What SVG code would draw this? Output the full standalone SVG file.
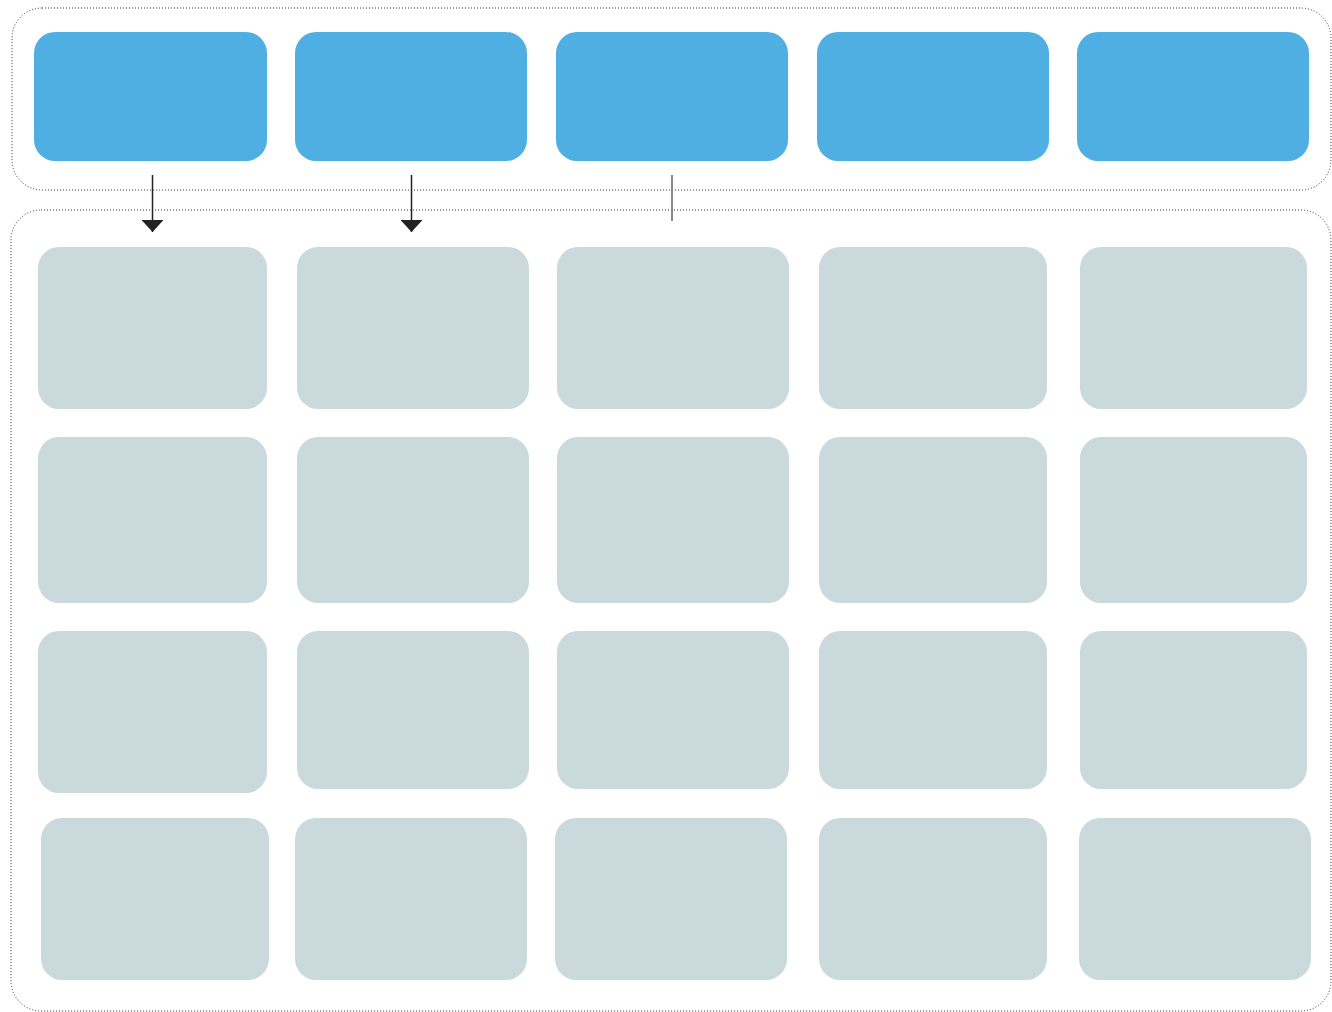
<svg xmlns="http://www.w3.org/2000/svg" width="1332" height="1012" viewBox="0 0 1332 1012">
<defs>
<style>
.container{fill:none;stroke:#333;stroke-width:1;stroke-dasharray:1 2}
.head{fill:#4FAFE3}
.cell{fill:#C9D9DC}
.arrow{stroke:#222;stroke-width:1.5;fill:none}
.tick{stroke:#888;stroke-width:2;fill:none}
</style>
<marker id="ah" viewBox="0 0 12 22" refX="12" refY="11" markerWidth="12" markerHeight="22" markerUnits="userSpaceOnUse" orient="auto">
<path d="M0,0 L12,11 L0,22 Z" fill="#222"/>
</marker>
</defs>
<rect width="1332" height="1012" fill="#fff"/>
<g id="containers">
<rect class="container" x="12" y="8" width="1319" height="182" rx="30"/>
<rect class="container" x="11" y="210" width="1320" height="801" rx="30"/>
</g>
<g id="headers">
<g id="h1"><rect class="head" x="34" y="32" width="233" height="129" rx="21"/></g>
<g id="h2"><rect class="head" x="295" y="32" width="232" height="129" rx="21"/></g>
<g id="h3"><rect class="head" x="556" y="32" width="232" height="129" rx="21"/></g>
<g id="h4"><rect class="head" x="817" y="32" width="232" height="129" rx="21"/></g>
<g id="h5"><rect class="head" x="1077" y="32" width="232" height="129" rx="21"/></g>
</g>
<g id="cells">
<g id="r1c1"><rect class="cell" x="38" y="247" width="229" height="162" rx="21"/></g>
<g id="r1c2"><rect class="cell" x="297" y="247" width="232" height="162" rx="21"/></g>
<g id="r1c3"><rect class="cell" x="557" y="247" width="232" height="162" rx="21"/></g>
<g id="r1c4"><rect class="cell" x="819" y="247" width="228" height="162" rx="21"/></g>
<g id="r1c5"><rect class="cell" x="1080" y="247" width="227" height="162" rx="21"/></g>
<g id="r2c1"><rect class="cell" x="38" y="437" width="229" height="166" rx="21"/></g>
<g id="r2c2"><rect class="cell" x="297" y="437" width="232" height="166" rx="21"/></g>
<g id="r2c3"><rect class="cell" x="557" y="437" width="232" height="166" rx="21"/></g>
<g id="r2c4"><rect class="cell" x="819" y="437" width="228" height="166" rx="21"/></g>
<g id="r2c5"><rect class="cell" x="1080" y="437" width="227" height="166" rx="21"/></g>
<g id="r3c1"><rect class="cell" x="38" y="631" width="229" height="162" rx="21"/></g>
<g id="r3c2"><rect class="cell" x="297" y="631" width="232" height="158" rx="21"/></g>
<g id="r3c3"><rect class="cell" x="557" y="631" width="232" height="158" rx="21"/></g>
<g id="r3c4"><rect class="cell" x="819" y="631" width="228" height="158" rx="21"/></g>
<g id="r3c5"><rect class="cell" x="1080" y="631" width="227" height="158" rx="21"/></g>
<g id="r4c1"><rect class="cell" x="41" y="818" width="228" height="162" rx="21"/></g>
<g id="r4c2"><rect class="cell" x="295" y="818" width="232" height="162" rx="21"/></g>
<g id="r4c3"><rect class="cell" x="555" y="818" width="232" height="162" rx="21"/></g>
<g id="r4c4"><rect class="cell" x="819" y="818" width="228" height="162" rx="21"/></g>
<g id="r4c5"><rect class="cell" x="1079" y="818" width="232" height="162" rx="21"/></g>
</g>
<g id="connectors">
<line class="arrow" x1="152.5" y1="175" x2="152.5" y2="232" marker-end="url(#ah)"/>
<line class="arrow" x1="411.5" y1="175" x2="411.5" y2="232" marker-end="url(#ah)"/>
<line class="tick" x1="672" y1="175" x2="672" y2="221"/>
</g>
</svg>
